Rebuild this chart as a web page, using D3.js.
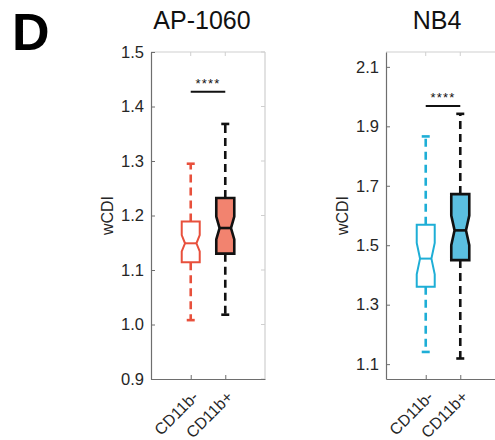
<!DOCTYPE html>
<html><head><meta charset="utf-8">
<script src="https://cdn.jsdelivr.net/npm/d3@7"></script>
<style>body{margin:0;background:#fff}svg{display:block}</style>
</head><body>
<script>
const categories = ["CD11b-", "CD11b+"];
const titles = ["AP-1060", "NB4"];
// AP-1060
const apWhiskLow = [1.008, 1.018];
const apQ1 = [1.114, 1.130];
const apMedian = [1.149, 1.177];
const apQ3 = [1.189, 1.232];
const apWhiskHigh = [1.295, 1.368];
const apNotch = [0.015, 0.021];
const apTicks = [0.9, 1.0, 1.1, 1.2, 1.3, 1.4, 1.5];
const apDomain = [0.9, 1.5];
const apSig = 1.427;
// NB4
const nbWhiskLow = [1.141, 1.119];
const nbQ1 = [1.360, 1.450];
const nbMedian = [1.455, 1.550];
const nbQ3 = [1.569, 1.672];
const nbWhiskHigh = [1.866, 1.942];
const nbNotch = [0.053, 0.050];
const nbTicks = [1.1, 1.3, 1.5, 1.7, 1.9, 2.1];
const nbDomain = [1.05, 2.15];
const nbSig = 1.968;
const sigLabel = "****";
const yLabel = "wCDI";

(function () {
const W = 495, H = 440;
const svg = d3.select("body").append("svg").attr("width", W).attr("height", H);
const FONT = "'Liberation Sans', Arial, sans-serif";

svg.append("text").attr("x", 12).attr("y", 50).text("D")
  .attr("font-family", FONT).attr("font-weight", "bold").attr("font-size", 52).attr("fill", "#000");

const panels = [
  {left: 151, title: titles[0], lo: apWhiskLow, q1: apQ1, med: apMedian, q3: apQ3, hi: apWhiskHigh, notch: apNotch,
   ticks: apTicks, domain: apDomain, sig: apSig,
   edge: ["#e8503c", "#111"], fill: ["#fff", "#f2836f"]},
  {left: 386, title: titles[1], lo: nbWhiskLow, q1: nbQ1, med: nbMedian, q3: nbQ3, hi: nbWhiskHigh, notch: nbNotch,
   ticks: nbTicks, domain: nbDomain, sig: nbSig,
   edge: ["#1eaed6", "#111"], fill: ["#fff", "#5bbfe0"]}
];

const pTop = 52, pBottom = 379, pw = 114;

panels.forEach(p => {
  const g = svg.append("g");
  const x = d3.scaleLinear().domain([-0.15, 3.15]).range([p.left, p.left + pw]);
  const y = d3.scaleLinear().domain(p.domain).range([pBottom, pTop]);
  const xs = [1, 2];

  const axCol = "#6e6e6e", light = "#cfcfcf";
  g.append("line").attr("x1", p.left).attr("x2", p.left + pw).attr("y1", pTop).attr("y2", pTop).attr("stroke", light).attr("stroke-width", 1.2);
  g.append("line").attr("x1", p.left + pw).attr("x2", p.left + pw).attr("y1", pTop).attr("y2", pBottom).attr("stroke", light).attr("stroke-width", 1.2);
  const ya = d3.axisLeft(y).tickValues(p.ticks).tickFormat(d3.format(".1f")).tickSizeInner(-4).tickSizeOuter(0).tickPadding(7);
  const yg = g.append("g").attr("transform", `translate(${p.left},0)`).call(ya);
  yg.select(".domain").attr("stroke", axCol).attr("stroke-width", 1.2);
  yg.selectAll(".tick line").attr("stroke", axCol);
  yg.selectAll(".tick text").attr("font-family", FONT).attr("font-size", 16.5).attr("fill", "#262626");
  g.selectAll(".rt").data(p.ticks).enter().append("line")
    .attr("x1", p.left + pw).attr("x2", p.left + pw - 4).attr("y1", d => y(d)).attr("y2", d => y(d)).attr("stroke", light);
  const xa = d3.axisBottom(x).tickValues(xs).tickFormat((d, i) => categories[i]).tickSizeInner(-4).tickSizeOuter(0).tickPadding(0);
  const xg = g.append("g").attr("transform", `translate(0,${pBottom})`).call(xa);
  xg.select(".domain").attr("stroke", axCol).attr("stroke-width", 1.2);
  xg.selectAll(".tick line").attr("stroke", axCol);
  xg.selectAll(".tick text").attr("font-family", FONT).attr("font-size", 16).attr("fill", "#262626")
    .attr("text-anchor", "end").attr("dy", 0).attr("y", 0)
    .attr("transform", "translate(8,19) rotate(-45)");
  g.selectAll(".tt").data(xs).enter().append("line")
    .attr("x1", d => x(d)).attr("x2", d => x(d)).attr("y1", pTop).attr("y2", pTop + 4).attr("stroke", light);

  g.append("text").attr("transform", `translate(${p.left - 38},${(pTop + pBottom) / 2}) rotate(-90)`)
    .attr("text-anchor", "middle").attr("font-family", FONT).attr("font-size", 16).attr("fill", "#262626").text(yLabel);

  g.append("text").attr("x", p.left + pw / 2 - 6).attr("y", 28.5).attr("text-anchor", "middle")
    .attr("font-family", FONT).attr("font-size", 25).attr("fill", "#111").text(p.title);

  const bw = 18, hw = bw / 2, ind = 3.3;
  xs.forEach((c, i) => {
    const cx = x(c), col = p.edge[i], lw = i === 0 ? 2 : 2.6;
    g.append("line").attr("x1", cx).attr("x2", cx).attr("y1", y(p.q3[i])).attr("y2", y(p.hi[i]))
      .attr("stroke", col).attr("stroke-width", 2.6).attr("stroke-dasharray", "8,5");
    g.append("line").attr("x1", cx).attr("x2", cx).attr("y1", y(p.q1[i])).attr("y2", y(p.lo[i]))
      .attr("stroke", col).attr("stroke-width", 2.6).attr("stroke-dasharray", "8,5");
    [p.hi[i], p.lo[i]].forEach(v => {
      g.append("line").attr("x1", cx - 4).attr("x2", cx + 4).attr("y1", y(v)).attr("y2", y(v))
        .attr("stroke", col).attr("stroke-width", 2.6);
    });
    const pts = [
      [cx - hw, y(p.q3[i])], [cx + hw, y(p.q3[i])],
      [cx + hw, y(p.med[i] + p.notch[i])], [cx + hw - ind, y(p.med[i])], [cx + hw, y(p.med[i] - p.notch[i])],
      [cx + hw, y(p.q1[i])], [cx - hw, y(p.q1[i])],
      [cx - hw, y(p.med[i] - p.notch[i])], [cx - hw + ind, y(p.med[i])], [cx - hw, y(p.med[i] + p.notch[i])]
    ];
    g.append("polygon").attr("points", pts.map(d => d.join(",")).join(" "))
      .attr("fill", p.fill[i]).attr("stroke", col).attr("stroke-width", lw).attr("stroke-linejoin", "miter");
    g.append("line").attr("x1", cx - hw + ind).attr("x2", cx + hw - ind).attr("y1", y(p.med[i])).attr("y2", y(p.med[i]))
      .attr("stroke", col).attr("stroke-width", lw);
  });

  g.append("line").attr("x1", x(1)).attr("x2", x(2)).attr("y1", y(p.sig)).attr("y2", y(p.sig))
    .attr("stroke", "#111").attr("stroke-width", 2);
  g.append("text").attr("x", (x(1) + x(2)) / 2).attr("y", y(p.sig) - 4).attr("text-anchor", "middle")
    .attr("font-family", FONT).attr("font-size", 13).attr("letter-spacing", 1.2).attr("fill", "#111").text(sigLabel);
});
})();
</script>
</body></html>
